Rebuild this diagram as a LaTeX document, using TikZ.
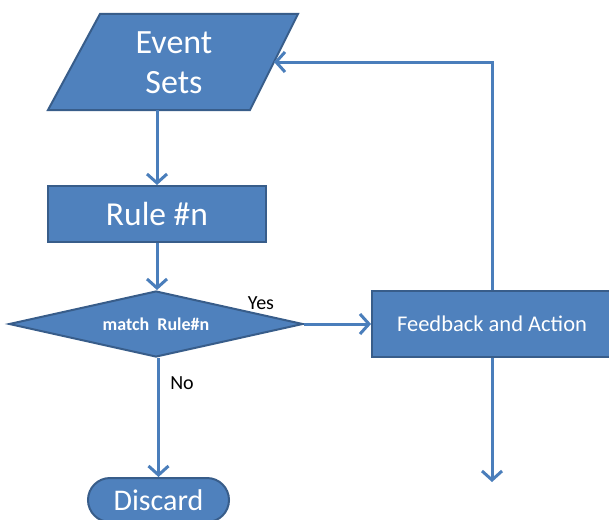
\documentclass[tikz,border=0pt]{standalone}
\usepackage{fontspec}
\setmainfont{Carlito}
\usetikzlibrary{arrows.meta,shapes.geometric}
\definecolor{boxfill}{HTML}{4F81BD}
\definecolor{boxedge}{HTML}{385D8A}
\definecolor{flow}{HTML}{4A7EBB}
\tikzset{
  box/.style={draw=boxedge, fill=boxfill, line width=2pt, text=white, inner sep=0pt},
  shapeedge/.style={draw=boxedge, fill=boxfill, line width=2pt, line join=miter},
  flowline/.style={draw=flow, line width=3pt, -{Straight Barb[length=9pt,width=20pt]}},
  tag/.style={font=\fontsize{20}{24}\selectfont, text=black}
}
\begin{document}
\begin{tikzpicture}[x=1pt,y=-1pt]
\useasboundingbox (0,0) rectangle (609,519);
\clip (0,0) rectangle (609,519);
\fill[white] (0,0) rectangle (609,519);

% input (parallelogram)
\coordinate (ev-tl) at (100,14);
\coordinate (ev-tr) at (298,14);
\coordinate (ev-br) at (250,110);
\coordinate (ev-bl) at (48,110);
\coordinate (ev-east) at (274,62);
\coordinate (ev-south) at (157,110);
\draw[shapeedge] (ev-tl) -- (ev-tr) -- (ev-br) -- (ev-bl) -- cycle;
\node[text=white, align=center, font=\fontsize{34}{40}\selectfont, inner sep=0pt]
  (events) at (174,63) {Event\\Sets};
% rule step
\node[box, rectangle, minimum width=218pt, minimum height=56pt,
      font=\fontsize{33.5}{38}\selectfont] (rule) at (157,214) {Rule \#n};
% decision
\node[box, diamond, aspect=4.45, minimum width=294pt, minimum height=66pt,
      font=\bfseries\fontsize{18}{21}\selectfont] (match) at (156,324) {match\ \ Rule\#n};
% terminator
\node[box, rectangle, rounded corners=22pt, minimum width=141pt, minimum height=44pt,
      font=\fontsize{30}{36}\selectfont] (discard) at (158.5,500) {Discard};
% action
\node[box, rectangle, minimum width=240pt, minimum height=66pt,
      font=\fontsize{22.5}{27}\selectfont] (fb) at (492,324) {Feedback and Action};

\coordinate (out) at (492,482);

\draw[flowline] (ev-south) -- (rule.north);
\draw[flowline] (rule.south) -- (rule.south |- match.north);
\draw[flowline] (match.east) -- (fb.west);
\draw[flowline] (match.south -| discard.north) -- (discard.north);
\draw[flowline] (fb.north) |- (ev-east);
\draw[flowline] (fb.south) -- (out);

\node[tag] (yes) at (261,303) {Yes};
\node[tag] (no) at (182,383) {No};
\end{tikzpicture}
\end{document}
